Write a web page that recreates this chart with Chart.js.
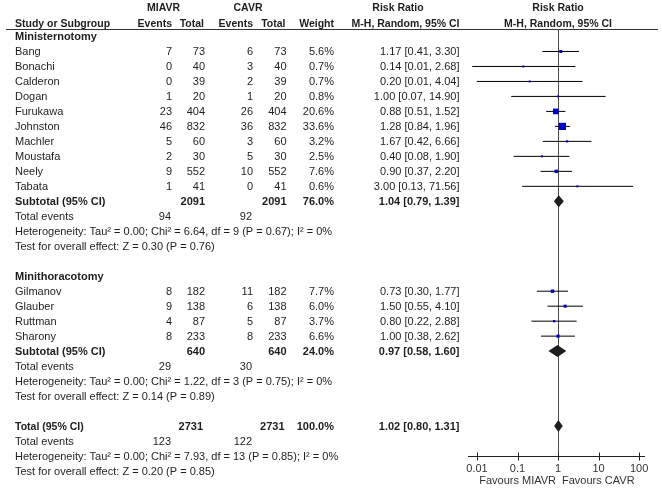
<!DOCTYPE html>
<html lang="en">
<head>
    <meta charset="UTF-8">
    <title>Forest plot - MIAVR vs CAVR</title>
    <script src="https://cdn.jsdelivr.net/npm/chart.js"></script>
    <style>
        body {
            margin: 0;
            padding: 0;
            background-color: #ffffff;
        }

        #wrap {
            width: 662px;
            height: 497px;
        }
    </style>
</head>
<body>
    <div id="wrap"><canvas id="forest" width="662" height="497"></canvas></div>

    <script>
        // individual studies
        const studies = ['Bang', 'Bonachi', 'Calderon', 'Dogan', 'Furukawa', 'Johnston', 'Machler', 'Moustafa', 'Neely', 'Tabata',
                         'Gilmanov', 'Glauber', 'Ruttman', 'Sharony'];
        const studyGroup = [0, 0, 0, 0, 0, 0, 0, 0, 0, 0, 1, 1, 1, 1];
        const eventsMIAVR = [7, 0, 0, 1, 23, 46, 5, 2, 9, 1, 8, 9, 4, 8];
        const totalMIAVR = [73, 40, 39, 20, 404, 832, 60, 30, 552, 41, 182, 138, 87, 233];
        const eventsCAVR = [6, 3, 2, 1, 26, 36, 3, 5, 10, 0, 11, 6, 5, 8];
        const totalCAVR = [73, 40, 39, 20, 404, 832, 60, 30, 552, 41, 182, 138, 87, 233];
        const weights = [5.6, 0.7, 0.7, 0.8, 20.6, 33.6, 3.2, 2.5, 7.6, 0.6, 7.7, 6.0, 3.7, 6.6];
        const riskRatio = [1.17, 0.14, 0.20, 1.00, 0.88, 1.28, 1.67, 0.40, 0.90, 3.00, 0.73, 1.50, 0.80, 1.00];
        const ciLow = [0.41, 0.0076, 0.0099, 0.07, 0.51, 0.84, 0.42, 0.08, 0.37, 0.13, 0.30, 0.55, 0.22, 0.38];
        const ciHigh = [3.30, 2.68, 4.04, 14.90, 1.52, 1.96, 6.66, 1.90, 2.20, 71.56, 1.77, 4.10, 2.88, 2.62];

        // subgroups
        const subNames = ['Ministernotomy', 'Minithoracotomy'];
        const subTotalMIAVR = [2091, 640];
        const subTotalCAVR = [2091, 640];
        const subEventsMIAVR = [94, 29];
        const subEventsCAVR = [92, 30];
        const subWeight = [76.0, 24.0];
        const subRR = [1.04, 0.97];
        const subLow = [0.79, 0.58];
        const subHigh = [1.39, 1.60];
        const subHet = ['Heterogeneity: Tau² = 0.00; Chi² = 6.64, df = 9 (P = 0.67); I² = 0%',
                        'Heterogeneity: Tau² = 0.00; Chi² = 1.22, df = 3 (P = 0.75); I² = 0%'];
        const subTest = ['Test for overall effect: Z = 0.30 (P = 0.76)',
                         'Test for overall effect: Z = 0.14 (P = 0.89)'];

        // overall
        const allTotalMIAVR = 2731;
        const allTotalCAVR = 2731;
        const allEventsMIAVR = 123;
        const allEventsCAVR = 122;
        const allWeight = 100.0;
        const allRR = 1.02;
        const allLow = 0.80;
        const allHigh = 1.31;
        const allHet = 'Heterogeneity: Tau² = 0.00; Chi² = 7.93, df = 13 (P = 0.85); I² = 0%';
        const allTest = 'Test for overall effect: Z = 0.20 (P = 0.85)';

        // axis
        const axisTicks = [0.01, 0.1, 1, 10, 100];
        const axisTickLabels = ['0.01', '0.1', '1', '10', '100'];
        const favourLeft = 'Favours MIAVR';
        const favourRight = 'Favours CAVR';

        // row numbers (one text line per row)
        const studyRow = [];
        const subRow = [];
        const groupRow = [];
        let row = 0;
        subNames.forEach(function (name, g) {
            groupRow[g] = row++;
            studies.forEach(function (s, i) {
                if (studyGroup[i] === g) studyRow[i] = row++;
            });
            subRow[g] = row;
            row += 5; // subtotal, total events, heterogeneity, test, blank
        });
        const totalRow = row;

        const ciData = [];
        studies.forEach(function (s, i) {
            ciData.push({ x: ciLow[i], y: studyRow[i] });
            ciData.push({ x: ciHigh[i], y: studyRow[i] });
            ciData.push({ x: ciHigh[i], y: null });
        });
        const pointData = studies.map(function (s, i) {
            return { x: riskRatio[i], y: studyRow[i] };
        });

        const FONT = '"Liberation Sans", Arial, sans-serif';
        const TEXT = '#1e1e1e';
        const col = { label: 15, evA: 172, totA: 205, evB: 253, totB: 286.5, wt: 334, rr: 459.5 };

        function fmtCI(m, lo, hi) {
            return m.toFixed(2) + ' [' + lo.toFixed(2) + ', ' + hi.toFixed(2) + ']';
        }

        const tablePlugin = {
            id: 'forestTable',
            beforeDatasetsDraw(chart) {
                const ctx = chart.ctx;
                const x = chart.scales.x;
                const area = chart.chartArea;
                ctx.save();
                // header rule
                ctx.strokeStyle = '#333';
                ctx.lineWidth = 1;
                ctx.beginPath();
                ctx.moveTo(6, Math.round(area.top) + 0.5);
                ctx.lineTo(658, Math.round(area.top) + 0.5);
                ctx.stroke();
                // line of no effect
                const x1 = Math.round(x.getPixelForValue(1)) + 0.5;
                ctx.strokeStyle = '#4a4a4a';
                ctx.beginPath();
                ctx.moveTo(x1, area.top);
                ctx.lineTo(x1, area.bottom);
                ctx.stroke();
                ctx.restore();
            },
            afterDraw(chart) {
                const ctx = chart.ctx;
                const x = chart.scales.x;
                const y = chart.scales.y;
                const area = chart.chartArea;

                function text(s, px, r, align, bold, size) {
                    ctx.font = (bold ? 'bold ' : '') + (size || 11) + 'px ' + FONT;
                    ctx.textAlign = align;
                    ctx.fillText(s, px, y.getPixelForValue(r) + 4);
                }

                function diamond(m, lo, hi, r) {
                    const cy = y.getPixelForValue(r);
                    const h = 6;
                    ctx.beginPath();
                    ctx.moveTo(x.getPixelForValue(lo), cy);
                    ctx.lineTo(x.getPixelForValue(m), cy - h);
                    ctx.lineTo(x.getPixelForValue(hi), cy);
                    ctx.lineTo(x.getPixelForValue(m), cy + h);
                    ctx.closePath();
                    ctx.fill();
                }

                ctx.save();
                ctx.fillStyle = TEXT;
                ctx.textBaseline = 'alphabetic';

                // headers
                text('MIAVR', 163.5, -1.95, 'center', true, 10.5);
                text('CAVR', 248, -1.95, 'center', true, 10.5);
                text('Risk Ratio', 398, -1.95, 'center', true, 10.5);
                text('Risk Ratio', x.getPixelForValue(1), -1.95, 'center', true, 10.5);
                text('Study or Subgroup', col.label, -0.93, 'left', true, 10.5);
                text('Events', col.evA, -0.93, 'right', true, 10.5);
                text('Total', col.totA - 1, -0.93, 'right', true, 10.5);
                text('Events', col.evB, -0.93, 'right', true, 10.5);
                text('Total', col.totB - 1, -0.93, 'right', true, 10.5);
                text('Weight', col.wt, -0.93, 'right', true, 10.5);
                text('M-H, Random, 95% CI', col.rr, -0.93, 'right', true, 10.5);
                text('M-H, Random, 95% CI', x.getPixelForValue(1), -0.93, 'center', true, 10.5);

                // study rows
                studies.forEach(function (s, i) {
                    const r = studyRow[i];
                    text(s, col.label, r, 'left');
                    text(String(eventsMIAVR[i]), col.evA, r, 'right');
                    text(String(totalMIAVR[i]), col.totA, r, 'right');
                    text(String(eventsCAVR[i]), col.evB, r, 'right');
                    text(String(totalCAVR[i]), col.totB, r, 'right');
                    text(weights[i].toFixed(1) + '%', col.wt, r, 'right');
                    text(fmtCI(riskRatio[i], ciLow[i], ciHigh[i]), col.rr, r, 'right');
                });

                // subgroups
                subNames.forEach(function (name, g) {
                    const r = subRow[g];
                    text(name, col.label, groupRow[g], 'left', true);
                    text('Subtotal (95% CI)', col.label, r, 'left', true);
                    text(String(subTotalMIAVR[g]), col.totA, r, 'right', true);
                    text(String(subTotalCAVR[g]), col.totB, r, 'right', true);
                    text(subWeight[g].toFixed(1) + '%', col.wt, r, 'right', true);
                    text(fmtCI(subRR[g], subLow[g], subHigh[g]), col.rr, r, 'right', true);
                    text('Total events', col.label, r + 1, 'left');
                    text(String(subEventsMIAVR[g]), col.evA - 1, r + 1, 'right');
                    text(String(subEventsCAVR[g]), col.evB - 1, r + 1, 'right');
                    text(subHet[g], col.label, r + 2, 'left');
                    text(subTest[g], col.label, r + 3, 'left');
                    diamond(subRR[g], subLow[g], subHigh[g], r);
                });

                // overall
                text('Total (95% CI)', col.label, totalRow, 'left', true, 10.5);
                text(String(allTotalMIAVR), col.totA - 2, totalRow, 'right', true);
                text(String(allTotalCAVR), col.totB - 2, totalRow, 'right', true);
                text(allWeight.toFixed(1) + '%', col.wt, totalRow, 'right', true);
                text(fmtCI(allRR, allLow, allHigh), col.rr, totalRow, 'right', true);
                text('Total events', col.label, totalRow + 1, 'left');
                text(String(allEventsMIAVR), col.evA - 1, totalRow + 1, 'right');
                text(String(allEventsCAVR), col.evB - 1, totalRow + 1, 'right');
                text(allHet, col.label, totalRow + 2, 'left');
                text(allTest, col.label, totalRow + 3, 'left');
                diamond(allRR, allLow, allHigh, totalRow);

                // x axis
                const ay = Math.round(area.bottom) + 0.5;
                ctx.strokeStyle = '#222';
                ctx.lineWidth = 1;
                ctx.beginPath();
                ctx.moveTo(area.left, ay);
                ctx.lineTo(area.right, ay);
                axisTicks.forEach(function (t) {
                    const tx = Math.round(x.getPixelForValue(t)) + 0.5;
                    ctx.moveTo(tx, ay - 4);
                    ctx.lineTo(tx, ay + 4);
                });
                ctx.stroke();

                ctx.fillStyle = '#333';
                ctx.font = '11px ' + FONT;
                ctx.textAlign = 'center';
                axisTicks.forEach(function (t, k) {
                    ctx.fillText(axisTickLabels[k], x.getPixelForValue(t), ay + 15);
                });
                const cx = x.getPixelForValue(1);
                ctx.textAlign = 'right';
                ctx.fillText(favourLeft, cx - 2, ay + 27);
                ctx.textAlign = 'left';
                ctx.fillText(favourRight, cx + 4, ay + 27);

                ctx.restore();
            }
        };

        new Chart(document.getElementById('forest'), {
            type: 'scatter',
            data: {
                datasets: [
                    {
                        label: 'Risk ratio',
                        data: pointData,
                        order: 0,
                        pointStyle: 'rect',
                        backgroundColor: '#0000c8',
                        borderWidth: 0,
                        clip: false,
                        pointRadius: function (c) {
                            const side = Math.max(2, 7.2 * Math.sqrt(weights[c.dataIndex] / 33.6));
                            return side / (2 * Math.SQRT1_2);
                        }
                    },
                    {
                        label: '95% CI',
                        data: ciData,
                        order: 1,
                        showLine: true,
                        spanGaps: false,
                        borderColor: '#000',
                        borderWidth: 1,
                        pointRadius: 0,
                        clip: false
                    }
                ]
            },
            options: {
                responsive: false,
                animation: false,
                events: [],
                layout: {
                    padding: { left: 468, right: 17, top: 29, bottom: 41 }
                },
                plugins: {
                    legend: { display: false },
                    tooltip: { enabled: false }
                },
                scales: {
                    x: {
                        type: 'logarithmic',
                        display: false,
                        min: 0.006,
                        max: 140
                    },
                    y: {
                        type: 'linear',
                        display: false,
                        reverse: true,
                        min: -0.5,
                        max: 28
                    }
                }
            },
            plugins: [tablePlugin]
        });
    </script>
</body>
</html>
